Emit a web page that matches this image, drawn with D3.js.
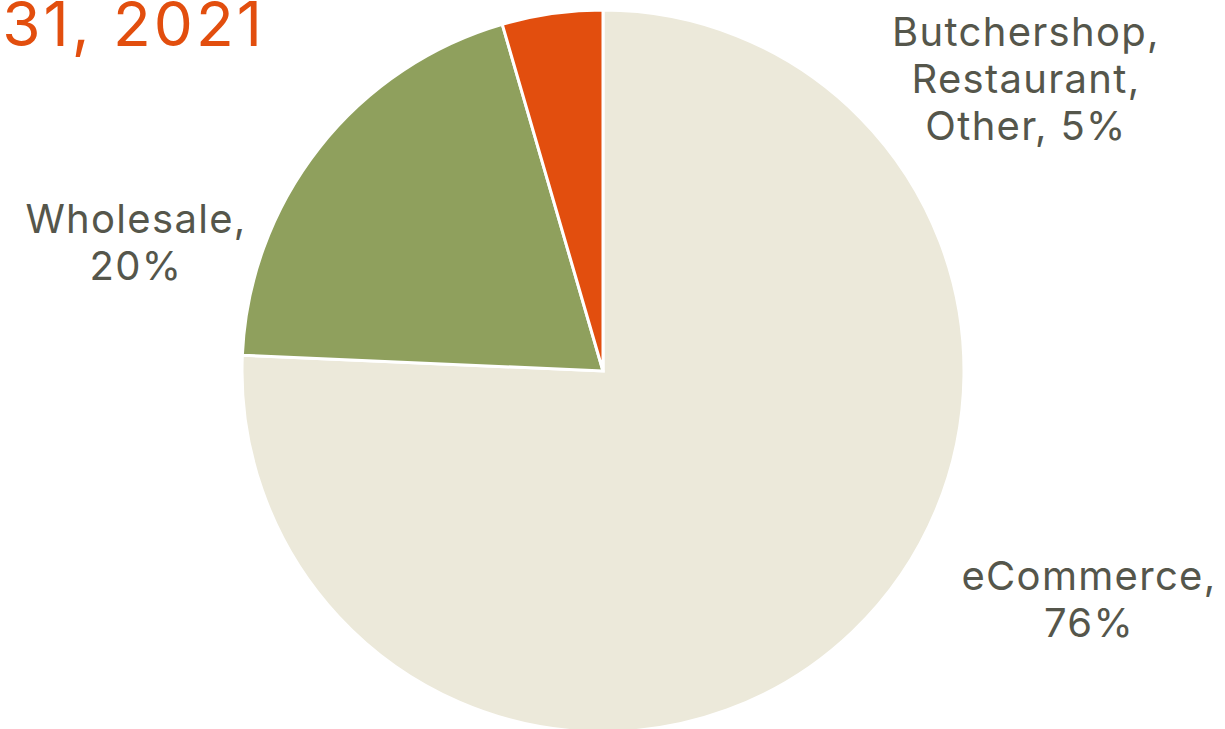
<!DOCTYPE html>
<html>
<head>
<meta charset="utf-8">
<script src="https://cdn.jsdelivr.net/npm/d3@7"></script>
<style>
  body { margin: 0; background: #fff; }
  svg { display: block; }
</style>
</head>
<body>
<div id="container"></div>
<script>
const width = 1225;
const height = 729;

const channels = ["eCommerce", "Wholesale", "Butchershop, Restaurant, Other"];
const shares = [75.7, 19.8, 4.5];
const labelLines = [["eCommerce,", "76%"], ["Wholesale,", "20%"], ["Butchershop,", "Restaurant,", "Other, 5%"]];
const colors = ["#ECE9DA", "#8FA05D", "#E24E0E"];
const titleText = "Revenue by Channel, Year Ended December 31, 2021";

const cx = 603;
const cy = 371;
const radius = 361;

const viz = d3.select("#container").append("svg").attr("width", width).attr("height", height);

const data = channels.map((c, i) => ({name: c, value: shares[i], lines: labelLines[i], color: colors[i]}));

let pie = d3.pie().value(d => d.value).sort(null);
let arc = d3.arc().innerRadius(0).outerRadius(radius);

viz.append("g").attr("transform", `translate(${cx},${cy})`)
  .selectAll(".slice").data(pie(data)).enter().append("path")
  .attr("class", "slice")
  .attr("d", arc)
  .attr("fill", d => d.data.color)
  .attr("stroke", "#fff")
  .attr("stroke-width", 3)
  .attr("stroke-linejoin", "miter");

// label anchors (centre of first line baseline), same order as channels
const labelPos = [[1089, 590], [136, 233], [1026, 46]];
const lineHeight = 47;

data.forEach((d, i) => {
  let t = viz.append("text")
    .attr("text-anchor", "middle")
    .attr("fill", "#55564B")
    .attr("font-family", "Inter, 'Noto Sans', sans-serif")
    .attr("font-size", 40)
    .attr("letter-spacing", 1.3);
  d.lines.forEach((line, j) => {
    t.append("tspan").attr("x", labelPos[i][0]).attr("y", labelPos[i][1] + j * lineHeight).text(line);
  });
});

viz.append("text")
  .attr("x", 265).attr("y", 46)
  .attr("text-anchor", "end")
  .attr("fill", "#E24E0E")
  .attr("font-family", "Inter, 'Noto Sans', sans-serif")
  .attr("font-size", 62)
  .attr("letter-spacing", 3)
  .text(titleText);
</script>
</body>
</html>
